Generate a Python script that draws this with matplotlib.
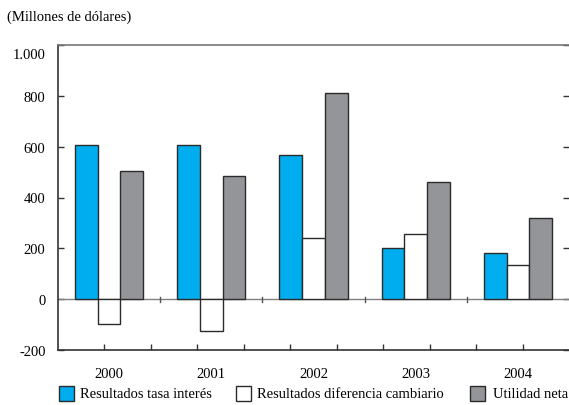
import matplotlib
matplotlib.use("Agg")
import matplotlib.pyplot as plt
import matplotlib.transforms as mtransforms
import numpy as np
from matplotlib.patches import Rectangle

years = ["2000", "2001", "2002", "2003", "2004"]
tasa = [605, 605, 568, 203, 182]
cambio = [-98, -125, 242, 258, 135]
utilidad = [503, 485, 813, 461, 321]
series_names = ["Resultados tasa interés", "Resultados diferencia cambiario", "Utilidad neta"]
yticks = [-200, 0, 200, 400, 600, 800, 1000]
ytick_labels = ["-200", "0", "200", "400", "600", "800", "1.000"]

plt.rcParams["font.family"] = ["Liberation Serif", "DejaVu Serif"]
plt.rcParams["font.size"] = 10.5

W, H = 569, 406
fig = plt.figure(figsize=(W / 100, H / 100), dpi=100)
ax = fig.add_axes([58 / W, 1 - 351 / H, (569 - 58) / W, (351 - 46) / H])

x = np.arange(len(years))
bw = 2 / 9
colors = ["#00AEEF", "#FFFFFF", "#939598"]
edge = "#2b2b2b"
for i, (vals, c) in enumerate(zip([tasa, cambio, utilidad], colors)):
    ax.bar(x + (i - 1) * bw, vals, width=bw, color=c, edgecolor=edge, linewidth=1.0, zorder=3)

ax.set_xlim(-0.5, len(years) - 0.5)
ax.set_ylim(-200, 1000)
ax.set_yticks(yticks)
ax.set_yticklabels(ytick_labels)
ax.axhline(0, color="#808080", linewidth=1.0, zorder=2)

# separators on zero line
for s in x[:-1] + 0.5:
    ax.plot([s, s], [-10, 10], color="#555555", linewidth=1.0, zorder=2)

ax.set_xticks(x)
ax.set_xticklabels(years)
minor = -0.5 + np.arange(1, 11) * len(years) / 11
ax.set_xticks(minor, minor=True)
ax.tick_params(axis="x", which="minor", direction="in", length=4, width=1, color="#333333")
ax.tick_params(axis="y", direction="in", length=4, width=1, color="#333333", right=True, pad=9)
ax.tick_params(axis="x", which="major", length=0, pad=12)

# the top label sits a little lower in the reference
lbl = ax.get_yticklabels()[-1]
lbl.set_transform(lbl.get_transform() + mtransforms.ScaledTranslation(0, -8 / 100, fig.dpi_scale_trans))

for sp in ["left", "bottom"]:
    ax.spines[sp].set_color("#333333")
    ax.spines[sp].set_linewidth(1.2)
ax.spines["top"].set_color("#777777")
ax.spines["top"].set_linewidth(1.2)
ax.spines["right"].set_visible(False)

fig.text(7 / W, 1 - 17 / H, "(Millones de dólares)", ha="left", va="center")

# legend
legend_items = [(59, 80), (236, 257), (470, 493)]
for (bx, tx), c, name in zip(legend_items, colors, series_names):
    fig.patches.append(Rectangle((bx / W, 1 - 402 / H), 15 / W, 15 / H, transform=fig.transFigure,
                                 facecolor=c, edgecolor=edge, linewidth=1.0))
    fig.text(tx / W, 1 - 395 / H, name, ha="left", va="center")

fig.savefig("out.png", dpi=100)
